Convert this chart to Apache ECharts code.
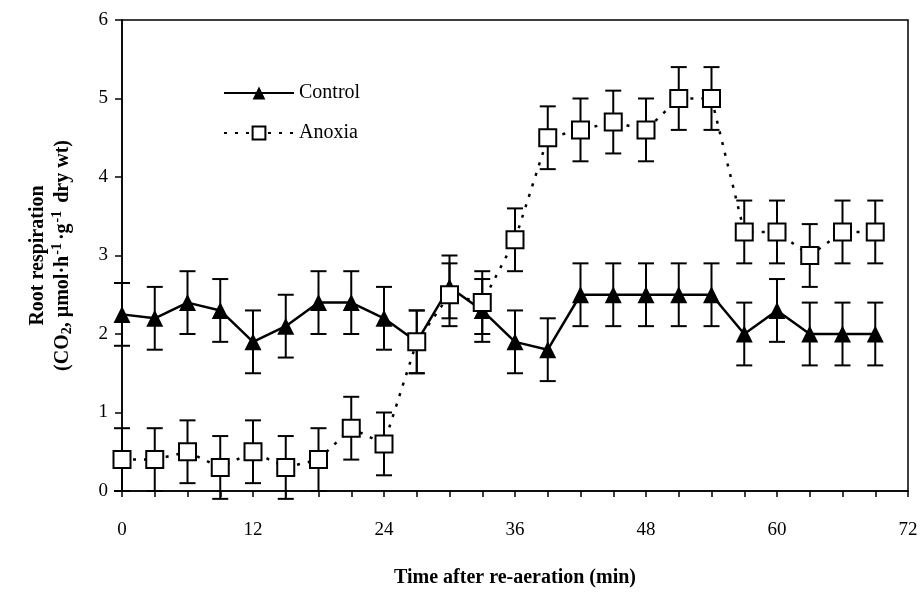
<!DOCTYPE html>
<html>
<head>
<meta charset="utf-8">
<script src="https://cdn.jsdelivr.net/npm/echarts@6/dist/echarts.min.js"></script>
<style>
  html, body { margin: 0; padding: 0; background: #fff; }
  #chart { width: 922px; height: 592px; }
</style>
</head>
<body>
<div id="chart"></div>
<script>
// sampling times (min)
var times = [0, 3, 6, 9, 12, 15, 18, 21, 24, 27, 30, 33, 36, 39, 42, 45, 48, 51, 54, 57, 60, 63, 66, 69];
// control plants
var controlVals = [2.25, 2.2, 2.4, 2.3, 1.9, 2.1, 2.4, 2.4, 2.2, 1.9, 2.6, 2.3, 1.9, 1.8, 2.5, 2.5, 2.5, 2.5, 2.5, 2.0, 2.3, 2.0, 2.0, 2.0];
var controlErr = [0.4, 0.4, 0.4, 0.4, 0.4, 0.4, 0.4, 0.4, 0.4, 0.4, 0.4, 0.4, 0.4, 0.4, 0.4, 0.4, 0.4, 0.4, 0.4, 0.4, 0.4, 0.4, 0.4, 0.4];
// anoxia-treated plants
var anoxiaVals = [0.4, 0.4, 0.5, 0.3, 0.5, 0.3, 0.4, 0.8, 0.6, 1.9, 2.5, 2.4, 3.2, 4.5, 4.6, 4.7, 4.6, 5.0, 5.0, 3.3, 3.3, 3.0, 3.3, 3.3];
var anoxiaErr = [0.4, 0.4, 0.4, 0.4, 0.4, 0.4, 0.4, 0.4, 0.4, 0.4, 0.4, 0.4, 0.4, 0.4, 0.4, 0.4, 0.4, 0.4, 0.4, 0.4, 0.4, 0.4, 0.4, 0.4];

var font = "'Liberation Serif', 'DejaVu Serif', serif";

function pairs(vals) {
  return times.map(function (t, i) { return [t, vals[i]]; });
}
function bars(vals, errs) {
  return times.map(function (t, i) { return [t, vals[i] - errs[i], vals[i] + errs[i]]; });
}

// draws one error bar with caps, through the axes
function errorBar(params, api) {
  var x = api.value(0);
  var lo = api.coord([x, api.value(1)]);
  var hi = api.coord([x, api.value(2)]);
  var w = 8;
  var st = { stroke: '#000', lineWidth: 2 };
  return {
    type: 'group',
    children: [
      { type: 'line', shape: { x1: lo[0], y1: lo[1], x2: hi[0], y2: hi[1] }, style: st },
      { type: 'line', shape: { x1: lo[0] - w, y1: lo[1], x2: lo[0] + w, y2: lo[1] }, style: st },
      { type: 'line', shape: { x1: hi[0] - w, y1: hi[1], x2: hi[0] + w, y2: hi[1] }, style: st }
    ]
  };
}

var myChart = echarts.init(document.getElementById('chart'));

var option = {
  backgroundColor: '#fff',
  animation: false,
  textStyle: { fontFamily: font, color: '#000' },
  grid: {
    left: 122, right: 14, top: 20, bottom: 101,
    outerBoundsMode: 'none',
    containLabel: false,
    show: true, borderColor: '#000', borderWidth: 1.5
  },
  legend: {
    orient: 'vertical',
    left: 218, top: 78,
    itemGap: 20,
    itemWidth: 70, itemHeight: 16,
    data: ['Control', 'Anoxia'],
    textStyle: { fontFamily: font, fontSize: 20, color: '#000' }
  },
  xAxis: {
    type: 'value',
    min: 0, max: 72, interval: 12,
    name: 'Time after re-aeration (min)',
    nameLocation: 'middle',
    nameGap: 77,
    nameTextStyle: { fontFamily: font, fontSize: 20, fontWeight: 'bold', color: '#000' },
    axisLine: { lineStyle: { color: '#000', width: 1.5 } },
    axisTick: { show: true, inside: false, length: 6, lineStyle: { color: '#000', width: 1.5 } },
    minorTick: { show: true, splitNumber: 4, length: 6, lineStyle: { color: '#000', width: 1.5 } },
    axisLabel: { fontFamily: font, fontSize: 19, color: '#000', margin: 30 },
    splitLine: { show: false }
  },
  yAxis: {
    type: 'value',
    min: 0, max: 6, interval: 1,
    name: '{b|Root respiration}\n{b|(CO}{sub|2}{b|, µmol·h}{sup|-1}{b|·g}{sup|-1}{b| dry wt)}',
    nameLocation: 'middle',
    nameGap: 46,
    nameRotate: 90,
    nameTextStyle: {
      fontFamily: font, fontSize: 20, fontWeight: 'bold', color: '#000',
      rich: {
        b: { fontFamily: font, fontSize: 20, fontWeight: 'bold', color: '#000', lineHeight: 24 },
        sub: { fontFamily: font, fontSize: 14, fontWeight: 'bold', color: '#000', padding: [8, 0, 0, 0] },
        sup: { fontFamily: font, fontSize: 14, fontWeight: 'bold', color: '#000', padding: [0, 3, 12, 1] }
      }
    },
    axisLine: { lineStyle: { color: '#000', width: 1.5 } },
    axisTick: { show: true, inside: false, length: 7, lineStyle: { color: '#000', width: 1.5 } },
    axisLabel: { fontFamily: font, fontSize: 19, color: '#000', margin: 14 },
    splitLine: { show: false }
  },
  series: [
    {
      name: 'Control err',
      type: 'custom',
      renderItem: errorBar,
      encode: { x: 0, y: [1, 2] },
      data: bars(controlVals, controlErr),
      z: 1,
      silent: true
    },
    {
      name: 'Anoxia err',
      type: 'custom',
      renderItem: errorBar,
      encode: { x: 0, y: [1, 2] },
      data: bars(anoxiaVals, anoxiaErr),
      z: 1,
      silent: true
    },
    {
      name: 'Anoxia',
      type: 'line',
      data: pairs(anoxiaVals),
      symbol: 'rect',
      symbolSize: 17,
      lineStyle: { color: '#000', width: 2.5, type: [3, 8] },
      itemStyle: { color: '#fff', borderColor: '#000', borderWidth: 2 },
      z: 3
    },
    {
      name: 'Control',
      type: 'line',
      data: pairs(controlVals),
      symbol: 'triangle',
      symbolSize: 17,
      lineStyle: { color: '#000', width: 2.5 },
      itemStyle: { color: '#000', borderColor: '#000', borderWidth: 0 },
      z: 2
    }
  ]
};

myChart.setOption(option);
window.addEventListener('resize', function () {
  myChart.resize();
});
</script>
</body>
</html>
